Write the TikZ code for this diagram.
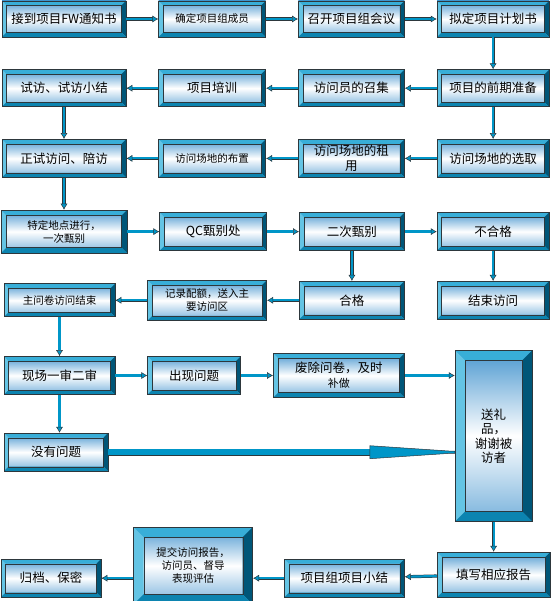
\documentclass[tikz,border=0pt]{standalone}
\usepackage{fontspec}
\setmainfont{Noto Sans CJK SC}
\usepackage{tikz}
\usetikzlibrary{arrows.meta,positioning,calc}
\definecolor{bvtop}{RGB}{56,174,216}
\definecolor{bvleft}{RGB}{100,196,228}
\definecolor{bvright}{RGB}{0,86,120}
\definecolor{bvbot}{RGB}{12,132,176}
\definecolor{inntop}{RGB}{75,152,208}
\definecolor{innbot}{RGB}{120,178,220}
\definecolor{edgegray}{RGB}{45,55,60}
\definecolor{lineblue}{RGB}{0,150,200}

\begin{document}
\begin{tikzpicture}[x=1pt,y=-1pt,node distance=32pt,font=\fontsize{12.5}{15}\selectfont]
\tikzset{bevw/.store in=\bevw,bevw=4.5pt,
  sz/.style 2 args={minimum width=#1pt,minimum height=#2pt},
  sm/.style={font=\fontsize{10.5}{13}\selectfont},
  box/.style={inner sep=1pt,align=center,draw=edgegray,line width=0.7pt,
    top color=inntop,bottom color=innbot,middle color=white,
    path picture={
      \coordinate (nw) at (path picture bounding box.north west);
      \coordinate (ne) at (path picture bounding box.north east);
      \coordinate (sw) at (path picture bounding box.south west);
      \coordinate (se) at (path picture bounding box.south east);
      \fill[bvtop] (nw)--(ne)--([xshift=-\bevw,yshift=-\bevw]ne)--([xshift=\bevw,yshift=-\bevw]nw)--cycle;
      \fill[bvleft] (nw)--(sw)--([xshift=\bevw,yshift=\bevw]sw)--([xshift=\bevw,yshift=-\bevw]nw)--cycle;
      \fill[bvright] (ne)--(se)--([xshift=-\bevw,yshift=\bevw]se)--([xshift=-\bevw,yshift=-\bevw]ne)--cycle;
      \fill[bvbot] (sw)--(se)--([xshift=-\bevw,yshift=\bevw]se)--([xshift=\bevw,yshift=\bevw]sw)--cycle;
      \draw[edgegray,line width=0.4pt] ([xshift=\bevw,yshift=-\bevw]nw) rectangle ([xshift=-\bevw,yshift=\bevw]se);
    }},
  conn/.style={draw=edgegray,line width=0.5pt,double=lineblue,double distance=2.2pt,
    -{Latex[length=6pt,width=7pt,fill=lineblue]}},
  bigconn/.style={draw=edgegray,line width=0.6pt,double=lineblue,double distance=5.5pt,shorten >=84pt},
  wedge/.style={fill=lineblue,draw=edgegray,line width=0.5pt}}
\useasboundingbox (0,0) rectangle (550,601);

\node[box,sz={124}{36}] (a1) at (64,19) {接到项目FW通知书};
\node[box,sz={107}{36},right=of a1,sm] (a2) {确定项目组成员};
\node[box,sz={106}{36},right=of a2] (a3) {召开项目组会议};
\node[box,sz={112}{36},right=of a3] (a4) {拟定项目计划书};
\node[box,sz={112}{37},below=of a4] (b4) {项目的前期准备};
\node[box,sz={106}{37},left=of b4] (b3) {访问员的召集};
\node[box,sz={107}{37},left=of b3] (b2) {项目培训};
\node[box,sz={124}{37},left=of b2] (b1) {试访、试访小结};
\node[box,sz={112}{38},below=of b4] (c4) {访问场地的选取};
\node[box,sz={106}{38},left=of c4] (c3) {访问场地的租\\用};
\node[box,sz={107}{38},left=of c3,sm] (c2) {访问场地的布置};
\node[box,sz={124}{38},left=of c2] (c1) {正试访问、陪访};
\node[box,sz={126}{43},below=of c1,sm,bevw=5.5pt] (d1) {特定地点进行，\\一次甄别};
\node[box,sz={107}{38},right=of d1] (d2) {QC甄别处};
\node[box,sz={105}{38},right=of d2] (d3) {二次甄别};
\node[box,sz={112}{38},right=of d3] (d4) {不合格};
\node[box,sz={112}{38},below=30pt of d4] (e4) {结束访问};
\node[box,sz={105}{38},below=30pt of d3] (e3) {合格};
\node[box,sz={119}{40},left=of e3,sm] (e2) {记录配额，送入主\\要访问区};
\node[box,sz={111}{33},left=of e2,sm] (e1) {主问卷访问结束};
\node[box,sz={111}{38},below=39pt of e1.south west,anchor=north west] (f1) {现场一审二审};
\node[box,sz={93}{38},right=of f1] (f2) {出现问题};
\node[box,sz={131}{44},right=of f2,bevw=5pt] (f3) {废除问卷，及时\\{\fontsize{11}{13}\selectfont 补做}};
\node[box,sz={77}{171},right=50pt of f3.north east,anchor=north west,yshift=3pt,bevw=10pt,
  font=\fontsize{12.5}{14.5}\selectfont] (g) {送礼\\品，\\谢谢被\\访者};
\node[box,sz={104}{38},below=38pt of f1.south west,anchor=north west] (h1) {没有问题};
\node[box,sz={113}{45},below=30pt of g,bevw=5pt] (i4) {填写相应报告};
\node[box,sz={120}{38},left=of i4.south west,anchor=south east] (i3) {项目组项目小结};
\node[box,sz={119}{77},left=31pt of i3.south west,anchor=south east,yshift=-7pt,bevw=10pt,sm] (i2) {提交访问报告，\\访问员、督导\\表现评估};
\node[box,sz={100}{38},left=32pt of i2.south west,anchor=south east,yshift=7pt] (i1) {归档、保密};

\draw[conn] (a1) -- (a2);
\draw[conn] (a2) -- (a3);
\draw[conn] (a3) -- (a4);
\draw[conn] (a4) -- (b4);
\draw[conn] (b4) -- (b3);
\draw[conn] (b3) -- (b2);
\draw[conn] (b2) -- (b1);
\draw[conn] (b1) -- (c1);
\draw[conn] (b4) -- (c4);
\draw[conn] (c4) -- (c3);
\draw[conn] (c3) -- (c2);
\draw[conn] (c2) -- (c1);
\draw[conn] (c1) -- (d1);
\draw[conn] (d1) -- (d2);
\draw[conn] (d2) -- (d3);
\draw[conn] (d3) -- (d4);
\draw[conn] (d3) -- (e3);
\draw[conn] (d4) -- (e4);
\draw[conn] (e3) -- (e2);
\draw[conn] (e2) -- (e1);
\draw[conn] (e1) -- (f1);
\draw[conn] (f1) -- (f2);
\draw[conn] (f2) -- (f3);
\draw[conn] (f3) -- (f3 -| g.west);
\draw[conn] (f1) -- (f1 |- h1.north);
\draw[bigconn] (h1) -- (h1 -| g.west);
\coordinate (gin) at (h1 -| g.west);
\filldraw[wedge] ($(gin)+(-85,-6.5)$) -- ($(gin)+(-6,-1.2)$) -- ($(gin)+(0,-1.2)$)
  -- ($(gin)+(0,1.2)$) -- ($(gin)+(-6,1.2)$) -- ($(gin)+(-85,6.5)$) -- cycle;
\draw[conn] (g) -- (i4);
\draw[conn] (i4) -- (i3);
\draw[conn] (i3.west) -- (i3.west -| i2.east);
\draw[conn] (i1 -| i2.west) -- (i1);
\end{tikzpicture}
\end{document}
